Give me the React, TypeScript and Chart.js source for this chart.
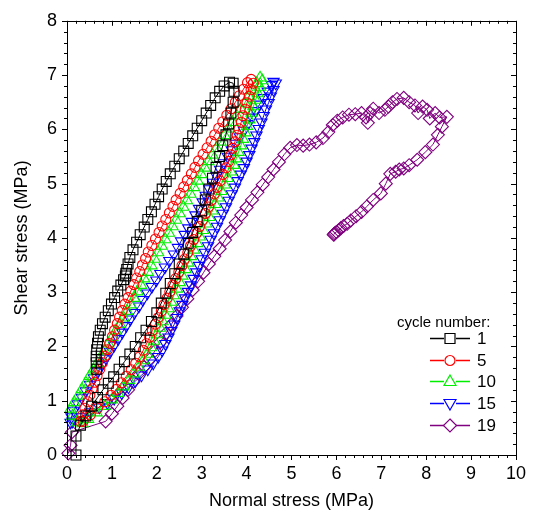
import React, { useEffect, useRef } from 'react';
import { Chart, registerables } from 'chart.js';

Chart.register(...registerables);

type P = [number, number];

// Cycle 1: lower branch up to peak, then upper branch back down
const cycle1: P[] = [
  [0.2, 0.0], [0.2, 0.35], [0.3, 0.55], [0.42, 0.72], [0.55, 0.9], [0.68, 1.06], [0.8, 1.2], [0.92, 1.32],
  [1.04, 1.44], [1.16, 1.58], [1.28, 1.72], [1.4, 1.86], [1.52, 2.0], [1.64, 2.16], [1.76, 2.3], [1.88, 2.46],
  [2.0, 2.62], [2.1, 2.8], [2.2, 2.98], [2.3, 3.16], [2.4, 3.34], [2.5, 3.52], [2.6, 3.7], [2.7, 3.9],
  [2.8, 4.1], [2.9, 4.3], [3.0, 4.5], [3.08, 4.7], [3.16, 4.9], [3.24, 5.1], [3.32, 5.3], [3.4, 5.5],
  [3.47, 5.7], [3.54, 5.9], [3.6, 6.1], [3.65, 6.3], [3.7, 6.5], [3.72, 6.7], [3.7, 6.85],
  [3.62, 6.87], [3.5, 6.8], [3.4, 6.7], [3.3, 6.58], [3.2, 6.44], [3.1, 6.3], [3.0, 6.16], [2.9, 6.02],
  [2.8, 5.88], [2.7, 5.74], [2.6, 5.6], [2.5, 5.46], [2.4, 5.32], [2.3, 5.18], [2.21, 5.04], [2.12, 4.9],
  [2.04, 4.76], [1.96, 4.62], [1.88, 4.48], [1.8, 4.34], [1.72, 4.2], [1.63, 4.06], [1.55, 3.92], [1.47, 3.78],
  [1.4, 3.64], [1.36, 3.52], [1.33, 3.42], [1.31, 3.35], [1.3, 3.3], [1.26, 3.23], [1.2, 3.13], [1.13, 3.02],
  [1.06, 2.9], [0.99, 2.78], [0.92, 2.66], [0.85, 2.54], [0.79, 2.42], [0.74, 2.3], [0.7, 2.18], [0.68, 2.06],
  [0.66, 1.94], [0.65, 1.82], [0.65, 1.7], [0.66, 1.58],
];

// Cycle 5
const cycle5: P[] = [
  [0.3, 0.62], [0.35, 0.74], [0.4, 0.86], [0.46, 0.98], [0.51, 1.1], [0.56, 1.22], [0.62, 1.34], [0.67, 1.46],
  [0.73, 1.58], [0.79, 1.7], [0.84, 1.82], [0.9, 1.94], [0.95, 2.06], [1.01, 2.18], [1.06, 2.3], [1.12, 2.42],
  [1.17, 2.54], [1.23, 2.66], [1.29, 2.78], [1.36, 2.9], [1.42, 3.02], [1.49, 3.14], [1.55, 3.26], [1.62, 3.38],
  [1.68, 3.5], [1.75, 3.62], [1.81, 3.74], [1.89, 3.86], [1.97, 3.98], [2.05, 4.1], [2.12, 4.22], [2.2, 4.34],
  [2.28, 4.46], [2.36, 4.58], [2.43, 4.7], [2.52, 4.82], [2.6, 4.94], [2.68, 5.06], [2.77, 5.18], [2.85, 5.3],
  [2.93, 5.42], [3.03, 5.54], [3.12, 5.66], [3.21, 5.78], [3.29, 5.9], [3.38, 6.02], [3.47, 6.14], [3.56, 6.26],
  [3.66, 6.38], [3.75, 6.5], [3.84, 6.62], [3.93, 6.74], [4.02, 6.86], [4.1, 6.92],
  [4.15, 6.85], [4.1, 6.73], [4.06, 6.61], [4.01, 6.49], [3.97, 6.37], [3.92, 6.25], [3.88, 6.13], [3.83, 6.01],
  [3.79, 5.89], [3.74, 5.77], [3.69, 5.65], [3.65, 5.53], [3.6, 5.41], [3.54, 5.29], [3.47, 5.17], [3.41, 5.05],
  [3.34, 4.93], [3.28, 4.81], [3.21, 4.69], [3.15, 4.57], [3.08, 4.45], [3.02, 4.33], [2.95, 4.21], [2.89, 4.09],
  [2.82, 3.97], [2.75, 3.85], [2.69, 3.73], [2.62, 3.61], [2.56, 3.49], [2.49, 3.37], [2.42, 3.25], [2.36, 3.13],
  [2.29, 3.01], [2.23, 2.89], [2.16, 2.77], [2.1, 2.65], [2.03, 2.53], [1.97, 2.41], [1.9, 2.29], [1.84, 2.17],
  [1.77, 2.05], [1.7, 1.93], [1.62, 1.81], [1.53, 1.69], [1.43, 1.57], [1.32, 1.45], [1.21, 1.33], [1.1, 1.21],
  [0.98, 1.1], [0.84, 0.98], [0.68, 0.86], [0.52, 0.74], [0.36, 0.62],
];

// Cycle 10
const cycle10: P[] = [
  [0.08, 0.85], [0.16, 0.97], [0.25, 1.09], [0.33, 1.21], [0.42, 1.33], [0.5, 1.45], [0.59, 1.57], [0.67, 1.69],
  [0.76, 1.81], [0.84, 1.93], [0.92, 2.05], [1.01, 2.17], [1.09, 2.29], [1.18, 2.41], [1.26, 2.53], [1.34, 2.65],
  [1.42, 2.77], [1.5, 2.89], [1.57, 3.01], [1.65, 3.13], [1.72, 3.25], [1.8, 3.37], [1.88, 3.49], [1.95, 3.61],
  [2.03, 3.73], [2.11, 3.85], [2.19, 3.97], [2.27, 4.09], [2.35, 4.21], [2.43, 4.33], [2.51, 4.45], [2.59, 4.57],
  [2.67, 4.69], [2.75, 4.81], [2.83, 4.93], [2.91, 5.05], [2.99, 5.17], [3.07, 5.29], [3.15, 5.41], [3.24, 5.53],
  [3.33, 5.65], [3.42, 5.77], [3.51, 5.89], [3.6, 6.01], [3.69, 6.13], [3.78, 6.25], [3.87, 6.37], [3.96, 6.49],
  [4.05, 6.61], [4.14, 6.73], [4.23, 6.85], [4.3, 6.95],
  [4.35, 6.9], [4.3, 6.78], [4.25, 6.66], [4.2, 6.54], [4.15, 6.42], [4.11, 6.3], [4.06, 6.18], [4.01, 6.06],
  [3.97, 5.94], [3.92, 5.82], [3.87, 5.7], [3.82, 5.58], [3.77, 5.46], [3.72, 5.34], [3.65, 5.22], [3.58, 5.1],
  [3.51, 4.98], [3.44, 4.86], [3.37, 4.74], [3.3, 4.62], [3.24, 4.5], [3.17, 4.38], [3.1, 4.26], [3.03, 4.14],
  [2.96, 4.02], [2.9, 3.9], [2.83, 3.78], [2.76, 3.66], [2.7, 3.54], [2.64, 3.42], [2.57, 3.3], [2.51, 3.18],
  [2.45, 3.06], [2.38, 2.94], [2.32, 2.82], [2.26, 2.7], [2.19, 2.58], [2.13, 2.46], [2.07, 2.34], [2.0, 2.22],
  [1.94, 2.1], [1.87, 1.98], [1.79, 1.86], [1.7, 1.74], [1.6, 1.62], [1.49, 1.5], [1.38, 1.38], [1.26, 1.26],
  [1.14, 1.14], [1.0, 1.02], [0.84, 0.9], [0.66, 0.78], [0.47, 0.66], [0.35, 0.58], [0.22, 0.6], [0.12, 0.72],
];

// Cycle 15
const cycle15: P[] = [
  [0.08, 0.6], [0.1, 0.7], [0.15, 0.82], [0.24, 0.94], [0.33, 1.06], [0.42, 1.18], [0.51, 1.3], [0.6, 1.42],
  [0.69, 1.54], [0.78, 1.66], [0.87, 1.78], [0.96, 1.9], [1.05, 2.02], [1.14, 2.14], [1.23, 2.26], [1.32, 2.38],
  [1.41, 2.5], [1.5, 2.62], [1.6, 2.74], [1.69, 2.86], [1.79, 2.98], [1.89, 3.1], [1.99, 3.22], [2.08, 3.34],
  [2.18, 3.46], [2.28, 3.58], [2.38, 3.7], [2.47, 3.82], [2.54, 3.94], [2.62, 4.06], [2.7, 4.18], [2.78, 4.3],
  [2.86, 4.42], [2.94, 4.54], [3.02, 4.66], [3.09, 4.78], [3.17, 4.9], [3.25, 5.02], [3.33, 5.14], [3.41, 5.26],
  [3.49, 5.38], [3.58, 5.5], [3.67, 5.62], [3.76, 5.74], [3.85, 5.86], [3.94, 5.98], [4.03, 6.1], [4.12, 6.22],
  [4.2, 6.34], [4.29, 6.46], [4.38, 6.58], [4.47, 6.7], [4.56, 6.82], [4.6, 6.88],
  [4.65, 6.85], [4.6, 6.73], [4.54, 6.61], [4.49, 6.49], [4.43, 6.37], [4.38, 6.25], [4.33, 6.13], [4.27, 6.01],
  [4.22, 5.89], [4.17, 5.77], [4.11, 5.65], [4.06, 5.53], [4.0, 5.41], [3.94, 5.29], [3.87, 5.17], [3.8, 5.05],
  [3.74, 4.93], [3.67, 4.81], [3.6, 4.69], [3.54, 4.57], [3.47, 4.45], [3.4, 4.33], [3.34, 4.21], [3.27, 4.09],
  [3.2, 3.97], [3.14, 3.85], [3.07, 3.73], [3.0, 3.61], [2.94, 3.49], [2.88, 3.37], [2.82, 3.25], [2.76, 3.13],
  [2.69, 3.01], [2.63, 2.89], [2.57, 2.77], [2.51, 2.65], [2.45, 2.53], [2.39, 2.41], [2.32, 2.29], [2.26, 2.17],
  [2.19, 2.05], [2.12, 1.93], [2.03, 1.81], [1.92, 1.69], [1.8, 1.58], [1.66, 1.47], [1.52, 1.36], [1.37, 1.25],
  [1.22, 1.14], [1.05, 1.04], [0.9, 0.96], [0.72, 0.88], [0.52, 0.79], [0.3, 0.7], [0.12, 0.62],
];

// Cycle 19
const cycle19: P[] = [
  [0.03, 0.03], [0.08, 0.18], [0.11, 0.42], [0.86, 0.62], [1.0, 0.76], [1.12, 0.9], [1.24, 1.05], [1.36, 1.2],
  [1.48, 1.35], [1.6, 1.5], [1.72, 1.62], [1.84, 1.76], [1.96, 1.92], [2.08, 2.08], [2.2, 2.24], [2.32, 2.4],
  [2.44, 2.56], [2.56, 2.72], [2.68, 2.88], [2.8, 3.04], [2.92, 3.2], [3.04, 3.36], [3.16, 3.52], [3.28, 3.66],
  [3.4, 3.8], [3.52, 3.96], [3.64, 4.12], [3.76, 4.28], [3.88, 4.42], [4.0, 4.56], [4.12, 4.7], [4.24, 4.84],
  [4.36, 4.98], [4.48, 5.12], [4.6, 5.26], [4.72, 5.4], [4.84, 5.54], [4.97, 5.66], [5.12, 5.71], [5.26, 5.7],
  [5.4, 5.72], [5.55, 5.76], [5.7, 5.84], [5.82, 5.95], [5.92, 6.08], [6.02, 6.16], [6.14, 6.22], [6.28, 6.27],
  [6.42, 6.28], [6.56, 6.3], [6.66, 6.22], [6.7, 6.12], [6.75, 6.3], [6.82, 6.38], [6.95, 6.3], [7.08, 6.36],
  [7.16, 6.42], [7.25, 6.5], [7.35, 6.56], [7.5, 6.58], [7.62, 6.5], [7.75, 6.44], [7.82, 6.3], [7.92, 6.42],
  [8.02, 6.36], [8.08, 6.2], [8.2, 6.3], [8.3, 6.22], [8.46, 6.23], [8.35, 6.05], [8.26, 5.9], [8.15, 5.72],
  [7.98, 5.58], [7.8, 5.44], [7.62, 5.34], [7.5, 5.28], [7.4, 5.26], [7.32, 5.22], [7.2, 5.18], [7.1, 5.0],
  [6.99, 4.82], [6.82, 4.7], [6.68, 4.58], [6.56, 4.48], [6.44, 4.4], [6.32, 4.32], [6.24, 4.26], [6.16, 4.22],
  [6.1, 4.18], [6.05, 4.14], [6.0, 4.11], [5.97, 4.09], [5.95, 4.07], [5.94, 4.06],
];

const cycleLabels = ['1', '5', '10', '15', '19'];
const seriesData: P[][] = [cycle1, cycle5, cycle10, cycle15, cycle19];
const seriesColors = ['#000000', '#ff0000', '#00ee00', '#0000ff', '#800080'];
const seriesShapes = ['rect', 'circle', 'triangle', 'triangleDown', 'rectRot'];

const xTicks = [0, 1, 2, 3, 4, 5, 6, 7, 8, 9, 10];
const yTicks = [0, 1, 2, 3, 4, 5, 6, 7, 8];
const minorStep = 0.2;

const FONT = "'Liberation Sans', Arial, sans-serif";

function drawShape(ctx: CanvasRenderingContext2D, shape: string, x: number, y: number) {
  ctx.beginPath();
  if (shape === 'rect') {
    ctx.rect(x - 5, y - 5, 10, 10);
  } else if (shape === 'circle') {
    ctx.arc(x, y, 5, 0, Math.PI * 2);
  } else if (shape === 'triangle') {
    ctx.moveTo(x, y - 6.5);
    ctx.lineTo(x + 6, y + 4);
    ctx.lineTo(x - 6, y + 4);
    ctx.closePath();
  } else if (shape === 'triangleDown') {
    ctx.moveTo(x, y + 6.5);
    ctx.lineTo(x + 6, y - 4);
    ctx.lineTo(x - 6, y - 4);
    ctx.closePath();
  } else {
    ctx.moveTo(x, y - 6.5);
    ctx.lineTo(x + 6.5, y);
    ctx.lineTo(x, y + 6.5);
    ctx.lineTo(x - 6.5, y);
    ctx.closePath();
  }
  ctx.stroke();
}

const framePlugin = {
  id: 'frameTicks',
  afterDatasetsDraw(chart: any) {
    const { ctx, chartArea } = chart;
    const { left, right, top, bottom } = chartArea;
    const xs = chart.scales.x;
    const ys = chart.scales.y;
    ctx.save();
    ctx.strokeStyle = '#000';
    ctx.lineWidth = 1;
    ctx.strokeRect(Math.round(left) + 0.5, Math.round(top) + 0.5, Math.round(right - left), Math.round(bottom - top));
    ctx.beginPath();
    const nx = Math.round((xs.max - xs.min) / minorStep);
    for (let i = 0; i <= nx; i++) {
      const v = xs.min + i * minorStep;
      const px = Math.round(xs.getPixelForValue(v)) + 0.5;
      const major = i % 5 === 0;
      const len = major ? 5 : 3;
      ctx.moveTo(px, bottom);
      ctx.lineTo(px, bottom + len);
      ctx.moveTo(px, top);
      ctx.lineTo(px, top + len);
    }
    const ny = Math.round((ys.max - ys.min) / minorStep);
    for (let i = 0; i <= ny; i++) {
      const v = ys.min + i * minorStep;
      const py = Math.round(ys.getPixelForValue(v)) + 0.5;
      const major = i % 5 === 0;
      const len = major ? 5 : 3;
      ctx.moveTo(left, py);
      ctx.lineTo(left - len, py);
      ctx.moveTo(right, py);
      ctx.lineTo(right - len, py);
    }
    ctx.stroke();

    // legend
    ctx.fillStyle = '#000';
    ctx.font = `15px ${FONT}`;
    ctx.textAlign = 'left';
    ctx.textBaseline = 'middle';
    ctx.fillText('cycle number:', 397, 323);
    const rowY = [338, 360, 381, 403, 425];
    cycleLabels.forEach((lab, i) => {
      const yy = rowY[i];
      ctx.strokeStyle = seriesColors[i];
      ctx.lineWidth = 1.5;
      ctx.beginPath();
      ctx.moveTo(430, yy + 0.5);
      ctx.lineTo(444, yy + 0.5);
      ctx.moveTo(456, yy + 0.5);
      ctx.lineTo(470, yy + 0.5);
      ctx.stroke();
      ctx.lineWidth = 1.2;
      drawShape(ctx, seriesShapes[i], 450, yy + 0.5);
      ctx.fillStyle = '#000';
      ctx.font = `17px ${FONT}`;
      ctx.fillText(lab, 477, yy + 1);
    });
    ctx.restore();
  },
};

export default function App() {
  const ref = useRef<HTMLCanvasElement | null>(null);
  useEffect(() => {
    document.body.style.margin = '0';
    const canvas = ref.current;
    if (!canvas) return;
    const datasets = seriesData.map((d, i) => ({
      label: cycleLabels[i],
      data: d.map(([x, y]) => ({ x, y })),
      showLine: true,
      borderColor: seriesColors[i],
      borderWidth: 1,
      backgroundColor: 'rgba(0,0,0,0)',
      pointStyle: seriesShapes[i] === 'triangleDown' ? 'triangle' : seriesShapes[i],
      rotation: seriesShapes[i] === 'triangleDown' ? 180 : 0,
      pointRadius: seriesShapes[i] === 'rect' ? 7 : seriesShapes[i] === 'circle' ? 5 : 6.5,
      pointBorderColor: seriesColors[i],
      pointBackgroundColor: 'rgba(0,0,0,0)',
      pointBorderWidth: 1.1,
      clip: false as any,
    }));
    const chart = new Chart(canvas, {
      type: 'scatter',
      data: { datasets },
      options: {
        animation: false,
        responsive: false,
        maintainAspectRatio: false,
        events: [],
        layout: { padding: { left: 0, top: 18, right: 12, bottom: 0 } },
        plugins: { legend: { display: false }, tooltip: { enabled: false } },
        scales: {
          x: {
            type: 'linear',
            min: 0,
            max: 10,
            afterBuildTicks: (s: any) => { s.ticks = xTicks.map((v) => ({ value: v })); },
            afterFit: (s: any) => { s.height = 57; },
            grid: { display: false, drawTicks: false },
            border: { display: false },
            ticks: { color: '#000', font: { family: FONT, size: 18 }, padding: 8, maxRotation: 0 },
            title: { display: true, text: 'Normal stress (MPa)', color: '#000', font: { family: FONT, size: 18 }, padding: { top: 0, bottom: 0 } },
          },
          y: {
            type: 'linear',
            min: 0,
            max: 8,
            afterBuildTicks: (s: any) => { s.ticks = yTicks.map((v) => ({ value: v })); },
            afterFit: (s: any) => { s.width = 67; },
            grid: { display: false, drawTicks: false },
            border: { display: false },
            ticks: { color: '#000', font: { family: FONT, size: 18 }, padding: 10 },
            title: { display: true, text: 'Shear stress (MPa)', color: '#000', font: { family: FONT, size: 18 }, padding: { top: 11, bottom: 0 } },
          },
        },
      },
      plugins: [framePlugin],
    });
    return () => chart.destroy();
  }, []);
  return <canvas ref={ref} width={534} height={512} style={{ display: 'block' }} />;
}
